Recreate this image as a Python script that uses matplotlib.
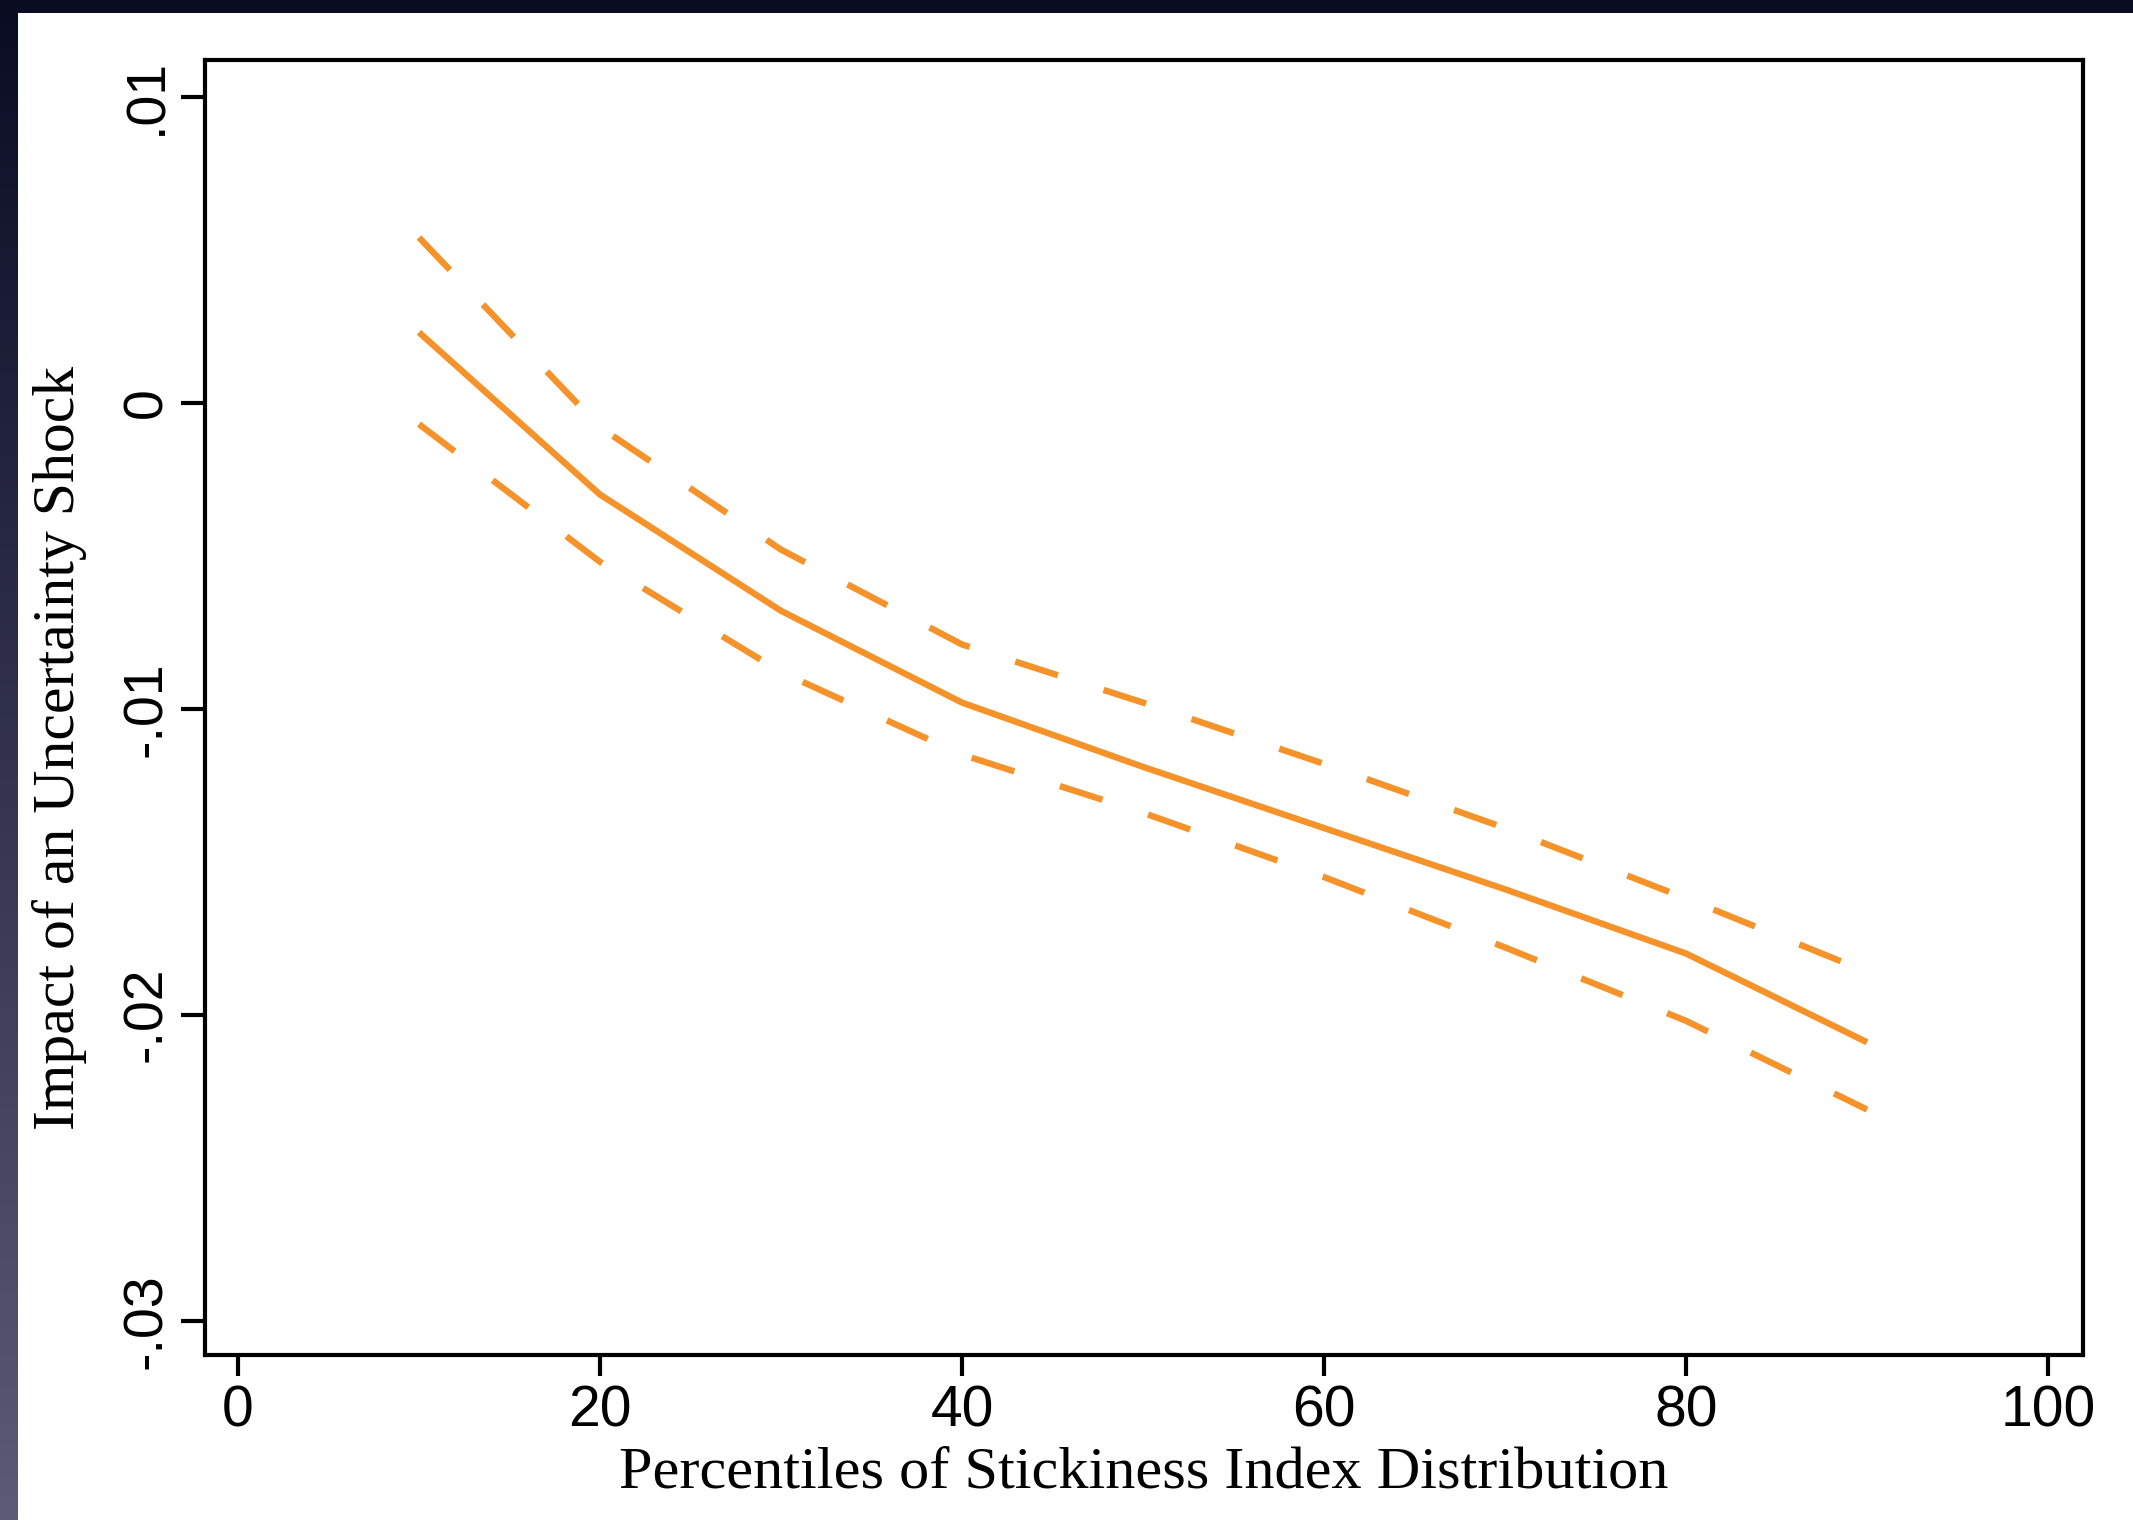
import numpy as np
import matplotlib
matplotlib.use("Agg")
import matplotlib.pyplot as plt

# percentiles and estimated impact
pct = [10, 20, 30, 40, 50, 60, 70, 80, 90]
impact = [0.0023, -0.0030, -0.0068, -0.0098, -0.0119, -0.0139, -0.0159, -0.0180, -0.0209]
upper = [0.0054, -0.0008, -0.0048, -0.0079, -0.0098, -0.0118, -0.0139, -0.0162, -0.0186]
lower = [-0.0007, -0.0052, -0.0088, -0.0115, -0.0134, -0.0155, -0.0178, -0.0202, -0.0231]

xticks = [0, 20, 40, 60, 80, 100]
yticks = [0.01, 0, -0.01, -0.02, -0.03]
ytick_labels = ['.01', '0', '-.01', '-.02', '-.03']

orange = '#F5922A'
W, H = 2133, 1520
fig = plt.figure(figsize=(W/100, H/100), dpi=100, facecolor='white')

# dark slide border (left gradient strip + top strip)
ax_l = fig.add_axes([0, 0, 18/W, 1])
grad = np.linspace(0, 1, 256).reshape(-1, 1)
cols = np.array([10, 12, 36]) / 255 * (1 - grad[..., None]) + np.array([92, 90, 118]) / 255 * grad[..., None]
ax_l.imshow(cols, aspect='auto', extent=[0, 1, 0, 1], origin='upper')
ax_l.axis('off')
ax_t = fig.add_axes([0, 1 - 13/H, 1, 13/H])
ax_t.set_facecolor('#0a0c22')
ax_t.set_xticks([]); ax_t.set_yticks([])
for s in ax_t.spines.values():
    s.set_visible(False)

ax = fig.add_axes([205/W, 1 - 1355/H, (2083-205)/W, (1355-60)/H])

ax.plot(pct, impact, color=orange, lw=4.6, solid_capstyle='butt')
ax.plot(pct, upper, color=orange, lw=4.6, dashes=(7, 7.5), dash_capstyle='butt')
ax.plot(pct, lower, color=orange, lw=4.6, dashes=(7, 7.5), dash_capstyle='butt')

ax.set_xlim(-1.82, 101.93)
ax.set_ylim(-0.03112, 0.0112)

ax.set_xticks(xticks)
ax.set_xticklabels([str(t) for t in xticks], fontsize=41, family='Liberation Sans')
ax.set_yticks(yticks)
ax.set_yticklabels(ytick_labels, fontsize=40, family='Liberation Sans', rotation=90, va='center')
ax.tick_params(axis='x', length=15, width=3, pad=6)
ax.tick_params(axis='y', length=17, width=3, pad=6)
for s in ax.spines.values():
    s.set_linewidth(3)

ax.set_xlabel('Percentiles of Stickiness Index Distribution', fontsize=43.5,
              family='Liberation Serif', labelpad=6)
ax.set_ylabel('Impact of an Uncertainty Shock', fontsize=43,
              family='Liberation Serif')
ax.yaxis.set_label_coords(-0.063, 0.469)

fig.savefig('out.png', dpi=100, facecolor='white')
